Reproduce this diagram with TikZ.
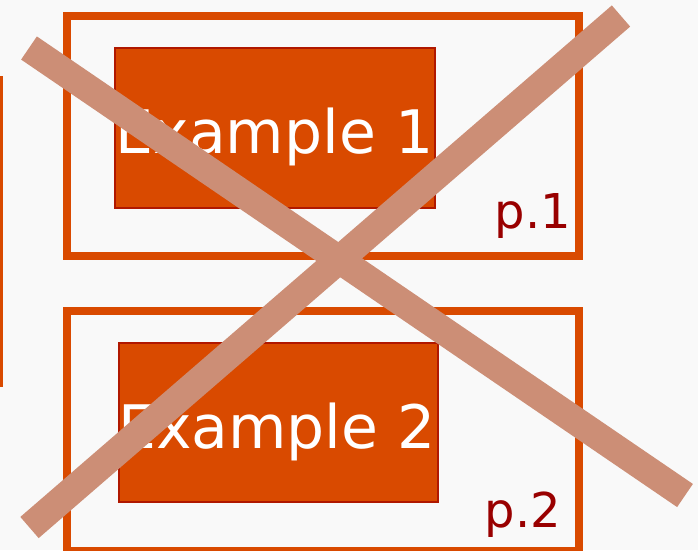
\documentclass[tikz,border=0pt]{standalone}
\usepackage{fontspec}
\newfontfamily\dv{DejaVu Sans}
\definecolor{bg}{HTML}{F9F9F9}
\definecolor{orng}{HTML}{D94A00}
\definecolor{innerborder}{HTML}{B01800}
\definecolor{pred}{HTML}{990000}
\definecolor{crossc}{HTML}{CC8E76}
\tikzset{
  outerbox/.style={draw=orng, line width=8pt, fill=none, inner sep=0pt, outer sep=0pt},
  innerbox/.style={draw=innerborder, line width=2pt, fill=orng, inner sep=0pt, outer sep=0pt},
  boxtext/.style={text=white, inner sep=0pt, anchor=base, font=\dv\fontsize{60}{60}\selectfont},
  pagelabel/.style={text=pred, inner sep=0pt, font=\dv\fontsize{48}{48}\selectfont},
  crossline/.style={draw=crossc, line width=28pt, line cap=butt}
}
\begin{document}
\begin{tikzpicture}[x=1pt,y=-1pt]
\fill[bg] (0,0) rectangle (698,550);
\useasboundingbox (0,0) rectangle (698,550);
% left edge bar
\fill[orng] (0,76) rectangle (3,387);
% outer boxes
\node[outerbox, minimum width=511.5pt, minimum height=239.5pt] (box1) at (322.75,135.75) {};
\node[outerbox, minimum width=511.5pt, minimum height=240pt] (box2) at (322.75,431) {};
% inner boxes
\node[innerbox, minimum width=320pt, minimum height=160pt] (ex1) at (275,128) {};
\node[innerbox, minimum width=319pt, minimum height=159pt] (ex2) at (278.5,422.5) {};
\node[boxtext] (t1) at (274.5,153) {Example 1};
\node[boxtext] (t2) at (277,448) {Example 2};
% page labels
\node[pagelabel, anchor=base east] (p1) at (571,228) {p.1};
\node[pagelabel, anchor=base east] (p2) at (561,527) {p.2};
% cross
\coordinate (c1) at (29,48);
\coordinate (c2) at (685,495.5);
\coordinate (c3) at (29.5,527.5);
\coordinate (c4) at (621,16);
\draw[crossline] (c1) -- (c2);
\draw[crossline] (c3) -- (c4);
\end{tikzpicture}
\end{document}
